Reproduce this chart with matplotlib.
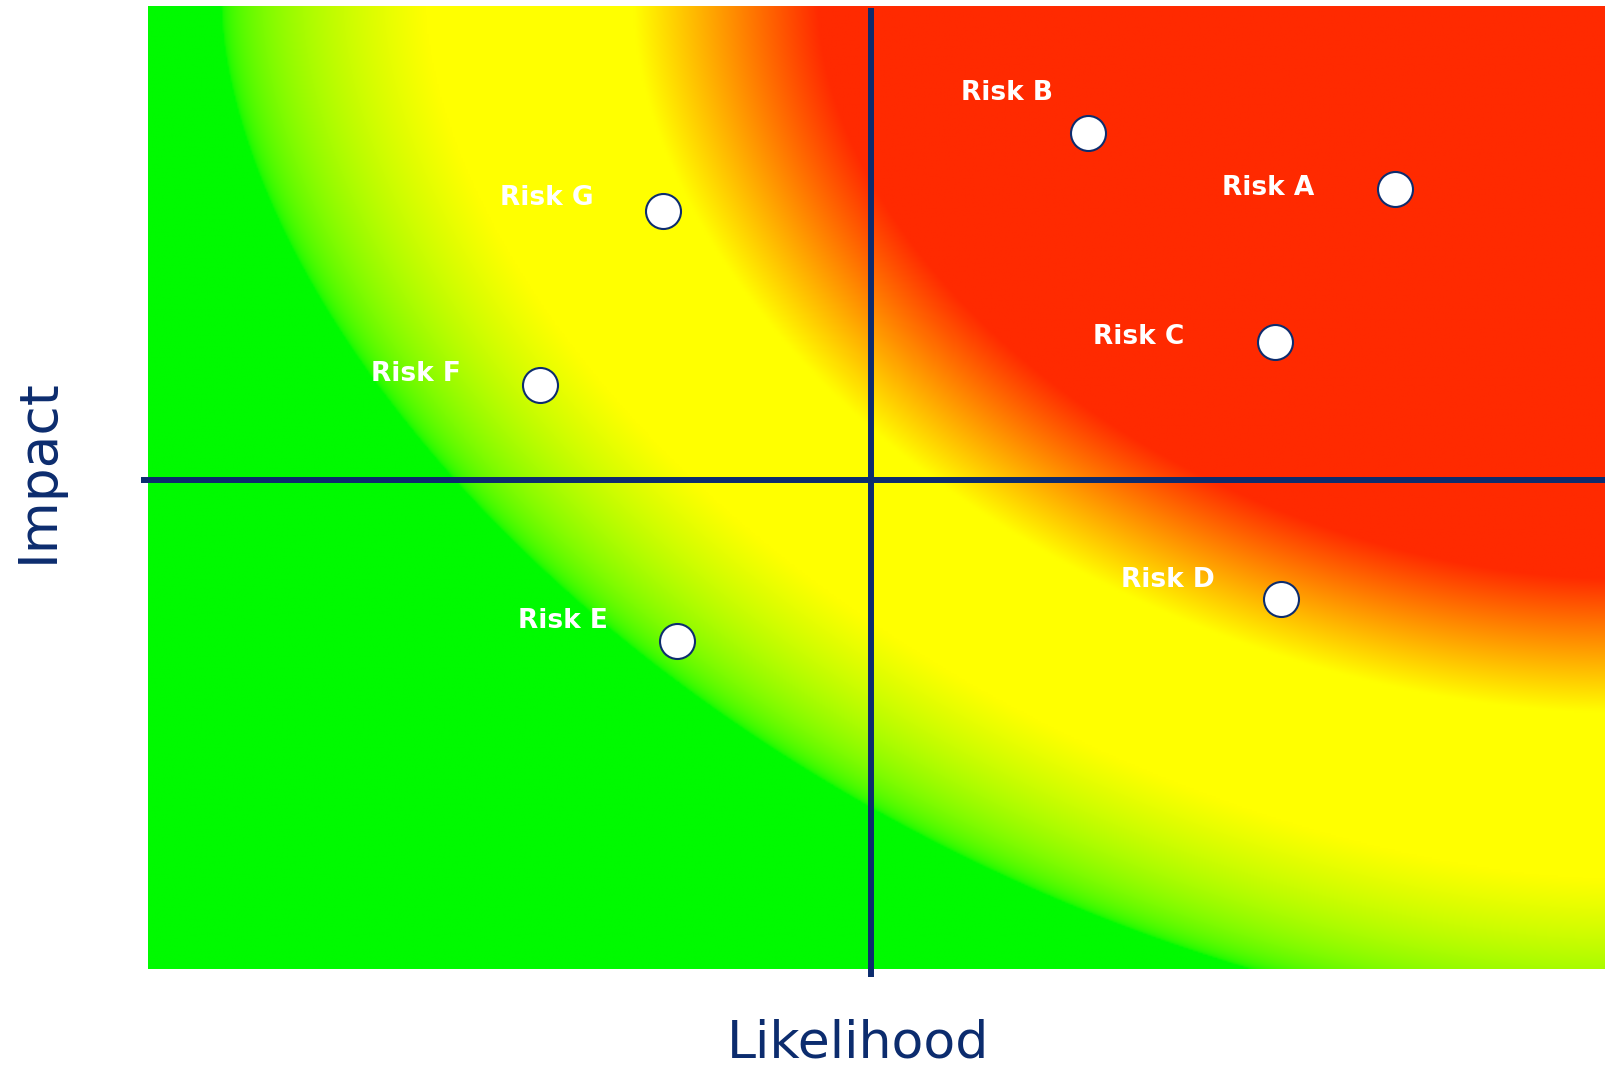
import numpy as np
import matplotlib
matplotlib.use("Agg")
import matplotlib.pyplot as plt

# Risk register: likelihood (x) and impact (y) on a 0-10 scale
risks = ["Risk A", "Risk B", "Risk C", "Risk D", "Risk E", "Risk F", "Risk G"]
likelihood = [8.55, 6.45, 7.73, 7.77, 3.63, 2.69, 3.53]
impact = [8.10, 8.68, 6.51, 3.84, 3.41, 6.06, 7.87]

# Quadrant dividers
likelihood_split = 4.96
impact_split = 5.08

# Label offsets (pixels) from each marker to the label's right edge / baseline
label_dx = [-80, -35, -91, -66, -69, -79, -69]
label_dy = [-6, 33, -2, 12, 13, 4, 6]

NAVY = "#0c2c6e"

fig = plt.figure(figsize=(16.06, 10.66), dpi=100)
ax = fig.add_axes([148 / 1606, 97 / 1066, 1458 / 1606, 963 / 1066])
ax.set_xlim(0, 10)
ax.set_ylim(0, 10)
ax.axis("off")

# Heat background: bands radiating from the top-right corner
nx, ny = 900, 600
U, V = np.meshgrid(np.linspace(0, 1, nx), np.linspace(0, 1, ny))


def corner_dist(p, aspect):
    return ((1 - U) ** p + ((1 - V) / aspect) ** p) ** (1 / p)


d_hot = corner_dist(1.8, 1.10)    # red -> yellow band
d_cool = corner_dist(1.7, 1.12)   # yellow -> green band

t_hot = np.clip((d_hot - 0.54) / (0.667 - 0.54), 0, 1)
t_cool = np.clip((d_cool - 0.81) / (0.95 - 0.81), 0, 1)

# red -> yellow: green channel rises; yellow -> green: red channel fades
# (blended in linear light, which keeps the band mostly yellow-green)
red_ch = (1 - t_cool) ** (1 / 2.2)
green_ch = (42 + t_hot * 213) / 255
green_ch = green_ch + t_cool * (250 / 255 - green_ch)
rgb = np.dstack([red_ch, green_ch, np.zeros_like(red_ch)])

ax.imshow(rgb, origin="lower", extent=(0, 10, 0, 10), aspect="auto",
          interpolation="bilinear", zorder=0)

# Quadrant lines
ax.plot([-0.048, 10], [impact_split, impact_split], color=NAVY, lw=4.3,
        solid_capstyle="butt", clip_on=False, zorder=2)
ax.plot([likelihood_split, likelihood_split], [-0.083, 9.98], color=NAVY,
        lw=4.3, solid_capstyle="butt", clip_on=False, zorder=2)

# Risk markers
ax.scatter(likelihood, impact, s=635, facecolor="white", edgecolor=NAVY,
           linewidth=1.5, zorder=3)

for name, x, y, dx, dy in zip(risks, likelihood, impact, label_dx, label_dy):
    ax.annotate(name, (x, y), xytext=(dx, dy), textcoords="offset pixels",
                ha="right", va="baseline", color="white", fontsize=19,
                fontweight="bold", family="DejaVu Sans", zorder=4)

fig.text(858 / 1606, 1 - 1057 / 1066, "Likelihood", ha="center",
         va="baseline", fontsize=37.5, color=NAVY, family="DejaVu Sans")
fig.text(38 / 1606, 1 - 471 / 1066, "Impact", ha="center", va="center",
         rotation=90, fontsize=38.5, color=NAVY, family="DejaVu Sans")

fig.savefig("out.png", dpi=100)
